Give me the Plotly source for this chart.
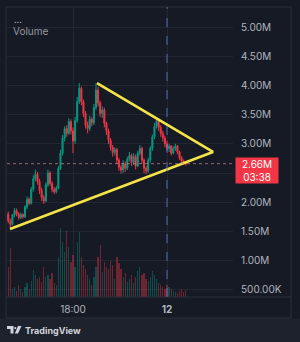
import plotly.graph_objects as go
import pandas as pd

# ---------------- data ----------------
start_time = "2024-06-11 13:52"
bar_minutes = 8
opens = [1.80, 1.68, 1.62, 1.78, 1.86, 1.80, 1.74, 1.79, 1.75, 1.92,
         2.05, 1.98, 2.22, 2.40, 2.48, 2.35, 2.20, 2.08, 2.02, 2.30,
         2.50, 2.32, 2.22, 2.18, 2.24, 2.58, 2.84, 3.10, 3.26, 3.18,
         3.38, 3.22, 3.05, 3.40, 3.72, 3.95, 3.72, 3.52, 3.32, 3.26,
         3.42, 3.36, 3.62, 3.92, 3.70, 3.52, 3.58, 3.35, 3.22, 3.06,
         2.94, 2.85, 2.90, 2.72, 2.60, 2.55, 2.66, 2.58, 2.74, 2.80,
         2.68, 2.78, 2.62, 2.84, 2.92, 2.72, 2.58, 2.54, 2.72, 2.92,
         3.12, 3.30, 3.40, 3.28, 3.18, 3.10, 3.00, 2.92, 2.96, 2.84,
         2.92, 2.96, 2.86, 2.76, 2.70, 2.67]
highs = [1.84, 1.72, 1.80, 1.90, 1.89, 1.83, 1.82, 1.81, 1.95, 2.10,
         2.08, 2.26, 2.46, 2.56, 2.52, 2.40, 2.25, 2.12, 2.34, 2.56,
         2.53, 2.36, 2.26, 2.28, 2.62, 2.90, 3.15, 3.30, 3.32, 3.44,
         3.42, 3.28, 3.46, 3.80, 4.04, 3.98, 3.76, 3.56, 3.38, 3.48,
         3.46, 3.68, 4.04, 3.98, 3.74, 3.64, 3.62, 3.38, 3.26, 3.10,
         2.98, 2.94, 2.93, 2.76, 2.64, 2.72, 2.70, 2.78, 2.86, 2.83,
         2.84, 2.82, 2.88, 2.98, 2.95, 2.75, 2.62, 2.76, 2.96, 3.16,
         3.36, 3.45, 3.43, 3.32, 3.22, 3.14, 3.05, 3.00, 2.98, 2.96,
         3.00, 2.98, 2.88, 2.79, 2.73, 2.70]
lows = [1.64, 1.55, 1.60, 1.74, 1.76, 1.70, 1.71, 1.72, 1.73, 1.88,
        1.95, 1.96, 2.18, 2.36, 2.30, 2.14, 2.02, 1.97, 2.00, 2.26,
        2.28, 2.17, 2.14, 2.15, 2.22, 2.55, 2.80, 3.04, 3.12, 3.15,
        3.16, 2.84, 3.00, 3.36, 3.68, 3.66, 3.46, 3.26, 3.18, 3.22,
        3.30, 3.32, 3.58, 3.64, 3.46, 3.44, 3.28, 3.15, 3.00, 2.88,
        2.78, 2.80, 2.66, 2.54, 2.49, 2.50, 2.52, 2.55, 2.70, 2.62,
        2.64, 2.56, 2.60, 2.80, 2.66, 2.50, 2.48, 2.50, 2.68, 2.88,
        3.08, 3.26, 3.22, 3.12, 3.04, 2.94, 2.88, 2.86, 2.80, 2.82,
        2.88, 2.82, 2.72, 2.68, 2.64, 2.63]
closes = [1.68, 1.62, 1.78, 1.86, 1.80, 1.74, 1.79, 1.75, 1.92, 2.05,
          1.98, 2.22, 2.40, 2.48, 2.35, 2.20, 2.08, 2.02, 2.30, 2.50,
          2.32, 2.22, 2.18, 2.24, 2.58, 2.84, 3.10, 3.26, 3.18, 3.38,
          3.22, 3.05, 3.40, 3.72, 3.95, 3.72, 3.52, 3.32, 3.26, 3.42,
          3.36, 3.62, 3.92, 3.70, 3.52, 3.58, 3.35, 3.22, 3.06, 2.94,
          2.85, 2.90, 2.72, 2.60, 2.55, 2.66, 2.58, 2.74, 2.80, 2.68,
          2.78, 2.62, 2.84, 2.92, 2.72, 2.58, 2.54, 2.72, 2.92, 3.12,
          3.30, 3.40, 3.28, 3.18, 3.10, 3.00, 2.92, 2.96, 2.84, 2.92,
          2.96, 2.86, 2.76, 2.70, 2.67, 2.66]
volumes = [30, 49, 8, 10, 6, 12, 8, 5, 10, 14,
           8, 16, 27, 22, 18, 20, 15, 30, 20, 22,
           18, 24, 14, 12, 40, 69, 55, 45, 66, 50,
           35, 42, 30, 55, 65, 40, 32, 28, 22, 18,
           12, 20, 30, 40, 52, 25, 35, 30, 28, 36,
           32, 18, 40, 34, 28, 20, 24, 15, 18, 22,
           14, 20, 26, 30, 22, 24, 18, 16, 20, 26,
           22, 18, 14, 12, 10, 8, 12, 10, 8, 6,
           5, 4, 6, 8, 5, 7]

# triangle drawing (time, price in millions): top vertex -> apex -> lower-left vertex
tri_times = ["2024-06-11 19:31:55", "2024-06-12 02:56:08", "2024-06-11 13:58:44"]
tri_prices = [4.041, 2.860, 1.541]

price_ticks = [0.5, 1.0, 1.5, 2.0, 2.5, 3.0, 3.5, 4.0, 4.5, 5.0]
price_labels = ["500.00K", "1.00M", "1.50M", "2.00M", "", "3.00M", "3.50M", "4.00M", "4.50M", "5.00M"]
time_ticks = ["2024-06-11 18:00", "2024-06-12 00:00"]
time_labels = ["18:00", "<b>12</b>"]
session_break = "2024-06-12 00:00"
last_price_label = "2.66M"
countdown = "03:38"

# ---------------- styling ----------------
UP = "#089981"
DOWN = "#F23645"
BG = "#161a25"
GRID = "#222632"
TXT = "#b2b5be"
FONT = "Inter"

times = pd.date_range(start_time, periods=len(closes), freq=f"{bar_minutes}min")
vol_colors = ["rgba(8,153,129,0.4)" if c >= o else "rgba(242,54,69,0.4)" for o, c in zip(opens, closes)]

W, H = 300, 342
ML, MR, MT, MB = 7, 67, 7, 45
PW = W - ML - MR
PH = H - MT - MB


def px(x):
    return (x - ML) / PW


def py(y):
    return (H - MB - y) / PH


fig = go.Figure()
fig.add_trace(go.Bar(
    x=times, y=volumes, yaxis="y2", marker=dict(color=vol_colors, line=dict(width=0)),
    width=bar_minutes * 60 * 1000 * 0.6, hoverinfo="skip", showlegend=False))
fig.add_trace(go.Candlestick(
    x=times, open=opens, high=highs, low=lows, close=closes,
    increasing=dict(line=dict(color=UP, width=1), fillcolor=UP),
    decreasing=dict(line=dict(color=DOWN, width=1), fillcolor=DOWN),
    whiskerwidth=0, showlegend=False))
fig.add_trace(go.Scatter(
    x=pd.to_datetime(tri_times), y=tri_prices, mode="lines",
    line=dict(color="#f5e447", width=2.6), hoverinfo="skip", showlegend=False))

shapes = []
# bottom strip
shapes.append(dict(type="rect", xref="paper", yref="paper", x0=px(-5), x1=px(305), y0=py(318.5), y1=py(345),
                   fillcolor="#1e222d", line=dict(width=0), layer="below"))
# frame
shapes.append(dict(type="rect", xref="paper", yref="paper", x0=px(6), x1=px(291), y0=py(318), y1=py(7),
                   line=dict(color="#2a2e39", width=1), fillcolor="rgba(0,0,0,0)", layer="above"))
shapes.append(dict(type="line", xref="paper", yref="paper", x0=px(6), x1=px(291), y0=py(297), y1=py(297),
                   line=dict(color="#2a2e39", width=1)))
# session break
shapes.append(dict(type="line", xref="x", yref="paper", x0=session_break, x1=session_break, y0=0, y1=1,
                   line=dict(color="rgba(90,125,200,0.85)", width=1, dash="dash")))
# last price line
shapes.append(dict(type="line", xref="paper", yref="y", x0=0, x1=1, y0=closes[-1], y1=closes[-1],
                   line=dict(color="rgba(210,140,150,0.7)", width=1, dash="dot")))
# TradingView logo
shapes.append(dict(type="path", xref="paper", yref="paper",
                   path=f"M {px(7)},{py(326)} L {px(13.5)},{py(326)} L {px(13.5)},{py(333.5)} L {px(10.5)},{py(333.5)} L {px(10.5)},{py(329)} L {px(7)},{py(329)} Z",
                   fillcolor="#d1d4dc", line=dict(width=0)))
shapes.append(dict(type="circle", xref="paper", yref="paper", x0=px(14.2), x1=px(16.4), y0=py(329.2), y1=py(327),
                   fillcolor="#d1d4dc", line=dict(width=0)))
shapes.append(dict(type="path", xref="paper", yref="paper",
                   path=f"M {px(18)},{py(326)} L {px(21.5)},{py(326)} L {px(18)},{py(333.5)} L {px(14.8)},{py(333.5)} Z",
                   fillcolor="#d1d4dc", line=dict(width=0)))

annotations = [
    dict(xref="paper", yref="y", x=px(235), y=closes[-1], xanchor="left", yanchor="top", yshift=7,
         text=f"{last_price_label}<br>{countdown}", showarrow=False, bgcolor=DOWN, width=42, height=25,
         borderpad=0, font=dict(family=FONT, size=10, color="#ffffff"), align="center"),
    dict(xref="paper", yref="paper", x=px(12), y=py(20), xanchor="left", yanchor="middle",
         text="...", showarrow=False, font=dict(family=FONT, size=9, color=TXT)),
    dict(xref="paper", yref="paper", x=px(11), y=py(31), xanchor="left", yanchor="middle",
         text="Volume", showarrow=False, font=dict(family=FONT, size=10, color="#9598a1")),
    dict(xref="paper", yref="paper", x=px(22.5), y=py(330), xanchor="left", yanchor="middle",
         text="<b>TradingView</b>", showarrow=False, font=dict(family=FONT, size=9, color="#d1d4dc")),
]

fig.update_layout(
    width=W, height=H,
    margin=dict(l=ML, r=MR, t=MT, b=MB, pad=0),
    paper_bgcolor=BG, plot_bgcolor=BG,
    font=dict(family=FONT, size=10, color=TXT),
    showlegend=False,
    shapes=shapes, annotations=annotations,
    hovermode=False,
    xaxis=dict(type="date", range=["2024-06-11 13:47:14", "2024-06-12 04:12:44"],
               tickvals=time_ticks, ticktext=time_labels, showgrid=True, gridcolor=GRID, gridwidth=1,
               zeroline=False, showline=False, ticks="", tickfont=dict(family=FONT, size=10, color=TXT),
               rangeslider=dict(visible=False), ticklabelstandoff=5, fixedrange=True),
    yaxis=dict(side="right", range=[0.3767, 5.3425], tickvals=price_ticks, ticktext=price_labels,
               showgrid=True, gridcolor=GRID, gridwidth=1, zeroline=False, showline=False, ticks="",
               tickfont=dict(family=FONT, size=10, color=TXT), ticklabelstandoff=7, fixedrange=True),
    yaxis2=dict(overlaying="y", range=[0, 290], visible=False, fixedrange=True),
    bargap=0,
)

fig.write_html("out.html")
